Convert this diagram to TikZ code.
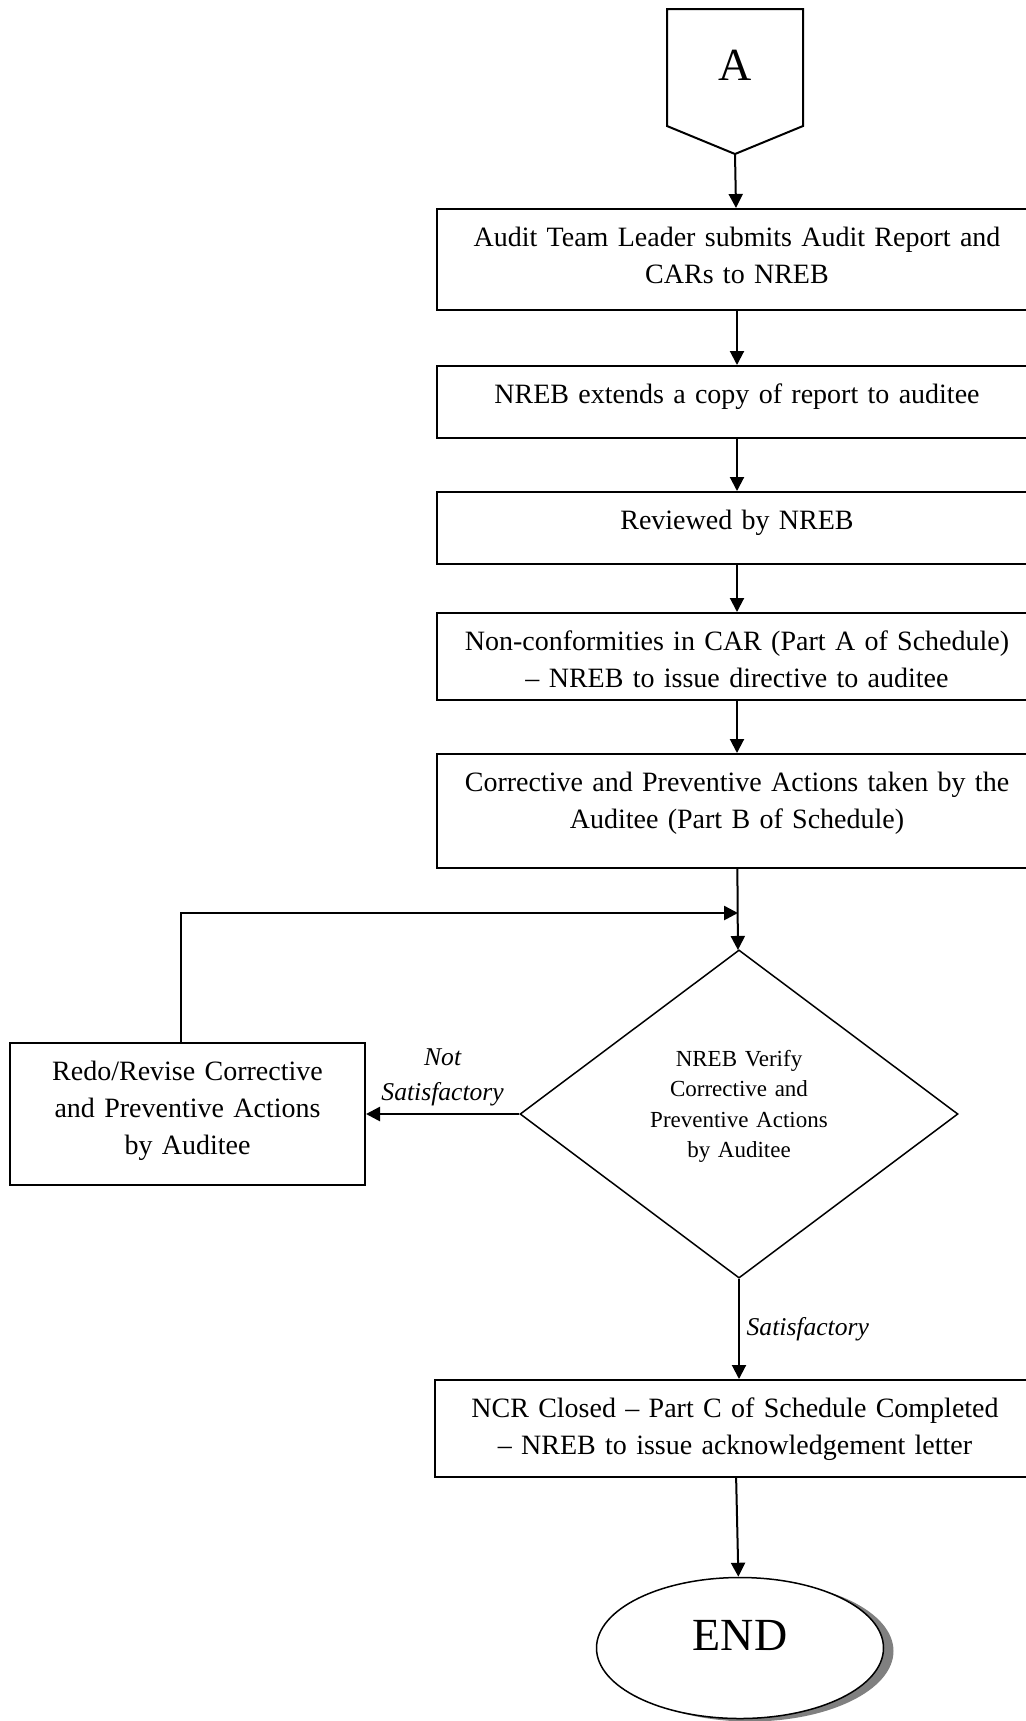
\documentclass[tikz,border=0pt]{standalone}
\usepackage{fontspec}
\setmainfont{Liberation Serif}
\usetikzlibrary{arrows.meta,shapes.geometric,shadows}

\tikzset{
  stepbox/.style={draw, rectangle, line width=1pt, anchor=north, inner sep=0pt,
    minimum width=300pt, text width=290pt, align=center,
    text height=18.5pt, text depth=#1, font=\fontsize{14}{18.5}\selectfont},
  decision/.style={draw, diamond, line width=0.75pt, inner sep=0pt,
    minimum width=219pt, minimum height=161.5pt, text width=100pt, align=center,
    text depth=56pt, font=\fontsize{11.5}{15.25}\selectfont},
  terminal/.style={draw, ellipse, line width=0.75pt, fill=white,
    minimum width=143.5pt, minimum height=70.5pt, text depth=13pt,
    font=\fontsize{23}{27}\selectfont,
    drop shadow={shadow xshift=5pt, shadow yshift=-1.5pt, fill=gray, opacity=1}},
  edgelabel/.style={font=\fontsize{12.8}{17.5}\selectfont\itshape, align=center},
  link/.style={->, line width=1pt},
  backlink/.style={->, line width=1.3pt}
}

\begin{document}
\begin{tikzpicture}[x=0.5pt, y=-0.5pt, >={Triangle[length=7pt,width=7pt]}]
\useasboundingbox (0,0) rectangle (1026,1721);

% off-page connector
\draw[line width=1pt] (667,9) -- (803,9) -- (803,126) -- (735,154) -- (667,126) -- cycle;
\node[font=\fontsize{23}{27}\selectfont] (A) at (735,65) {A};
\coordinate (Atip) at (735,154);

\node[stepbox=32pt] (S1) at (737,208) {Audit Team Leader submits Audit Report and\\CARs to NREB};
\node[stepbox=17.5pt] (S2) at (737,365) {NREB extends a copy of report to auditee};
\node[stepbox=17.5pt] (S3) at (737,491) {Reviewed by NREB};
\node[stepbox=25pt] (S4) at (737,612) {Non-conformities in CAR (Part A of Schedule)\\-- NREB to issue directive to auditee};
\node[stepbox=38.5pt] (S5) at (737,753) {Corrective and Preventive Actions taken by the\\Auditee (Part B of Schedule)};
\node[decision] (D) at (739,1114) {NREB Verify\\Corrective and\\Preventive Actions\\by Auditee};
\node[stepbox=52.5pt, minimum width=177.5pt, text width=170pt] (R) at (187.5,1042) {Redo/Revise Corrective\\and Preventive Actions\\by Auditee};
\node[stepbox=30pt] (S6) at (735,1379) {NCR Closed -- Part C of Schedule Completed\\-- NREB to issue acknowledgement letter};
\node[terminal] (E) at (740,1648) {END};
\coordinate (J) at (738,913);

\draw[link] (Atip) -- (S1);
\draw[link] (S1) -- (S2);
\draw[link] (S2) -- (S3);
\draw[link] (S3) -- (S4);
\draw[link] (S4) -- (S5);
\draw[link] (S5) -- (D);
\draw[backlink] (D) -- (R) node[edgelabel, above, midway] {Not\\Satisfactory};
\draw[backlink] ([xshift=-3.25pt]R.north) |- (J);
\draw[link] (D) -- (D |- S6.north) node[edgelabel, right, midway] {Satisfactory};
\draw[link] (S6) -- (E);
\end{tikzpicture}
\end{document}
